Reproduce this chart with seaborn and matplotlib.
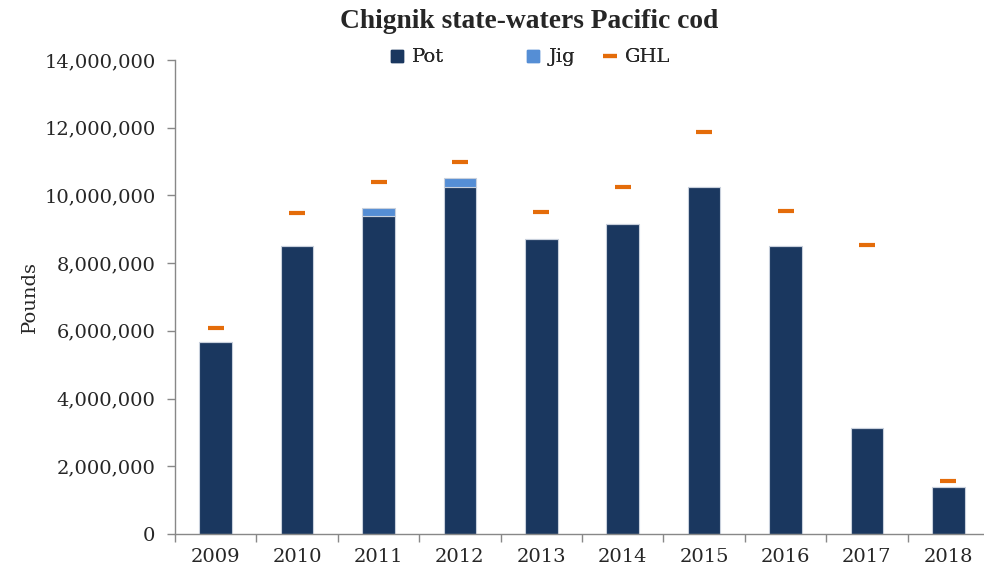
import numpy as np
import seaborn as sns
import matplotlib.pyplot as plt
from matplotlib.lines import Line2D
from matplotlib.ticker import FuncFormatter, FixedLocator

years = ['2009', '2010', '2011', '2012', '2013', '2014', '2015', '2016', '2017', '2018']
pot = [5670000, 8500000, 9390000, 10260000, 8710000, 9160000, 10260000, 8500000, 3140000, 1400000]
jig = [0, 0, 240000, 260000, 0, 0, 0, 0, 0, 0]
ghl = [6080000, 9470000, 10400000, 11000000, 9520000, 10260000, 11860000, 9540000, 8530000, 1570000]
series = ['Pot', 'Jig', 'GHL']

pot_color = '#1a375f'
jig_color = '#558ed5'
ghl_color = '#e46c0a'

sns.set_style('white')
plt.rcParams['font.family'] = ['DejaVu Serif']

fig = plt.figure(figsize=(9.84, 5.74), dpi=100)
ax = fig.add_axes([175 / 984, 40 / 574, 814 / 984, 474 / 574])

sns.barplot(x=years, y=pot, color=pot_color, width=0.4, ax=ax,
            edgecolor='#c8d0dc', linewidth=0.8, saturation=1)
sns.barplot(x=years, y=jig, bottom=pot, color=jig_color, width=0.4, ax=ax,
            edgecolor='#c8d0dc', linewidth=0.8, saturation=1)
sns.pointplot(x=years, y=ghl, color=ghl_color, linestyle='none', marker='_',
              markersize=12, markeredgewidth=3, ax=ax)

ax.set_xlim(-0.5, 9.5)
ax.set_ylim(0, 14000000)
ax.set_yticks(np.arange(0, 14000001, 2000000))
ax.yaxis.set_major_formatter(FuncFormatter(lambda v, p: f'{int(v):,}'))
ax.tick_params(axis='y', which='major', left=True, length=6, width=1, color='#888888',
               labelsize=14, pad=8)
ax.tick_params(axis='x', which='major', length=0, labelsize=14, pad=10)
ax.xaxis.set_minor_locator(FixedLocator(np.arange(-0.5, 9.6, 1)))
ax.tick_params(axis='x', which='minor', bottom=True, length=6, width=1, color='#888888')

for s in ['top', 'right']:
    ax.spines[s].set_visible(False)
for s in ['left', 'bottom']:
    ax.spines[s].set_color('#888888')
    ax.spines[s].set_linewidth(1)

ax.set_ylabel('Pounds', fontsize=14, labelpad=4)
ax.set_xlabel('')

fig.text(0.538, 0.962, 'Chignik state-waters Pacific cod', ha='center', va='center',
         fontsize=19.8, fontweight='bold', family=['Liberation Serif'])

handles = [
    Line2D([], [], linestyle='none', marker='s', markersize=9, color=pot_color),
    Line2D([], [], linestyle='none', marker='s', markersize=9, color=jig_color),
    Line2D([], [], linestyle='none', marker='_', markersize=10, markeredgewidth=3, color=ghl_color),
]
legend_x = [389, 525, 602]
for h, lab, lx in zip(handles, series, legend_x):
    leg = fig.legend([h], [lab], loc='center left', bbox_to_anchor=(lx / 984, 0.9),
                     frameon=False, fontsize=14, handlelength=0.8, handletextpad=0.4,
                     borderpad=0, borderaxespad=0)
    fig.add_artist(leg)

fig.savefig('out.png', dpi=100)
